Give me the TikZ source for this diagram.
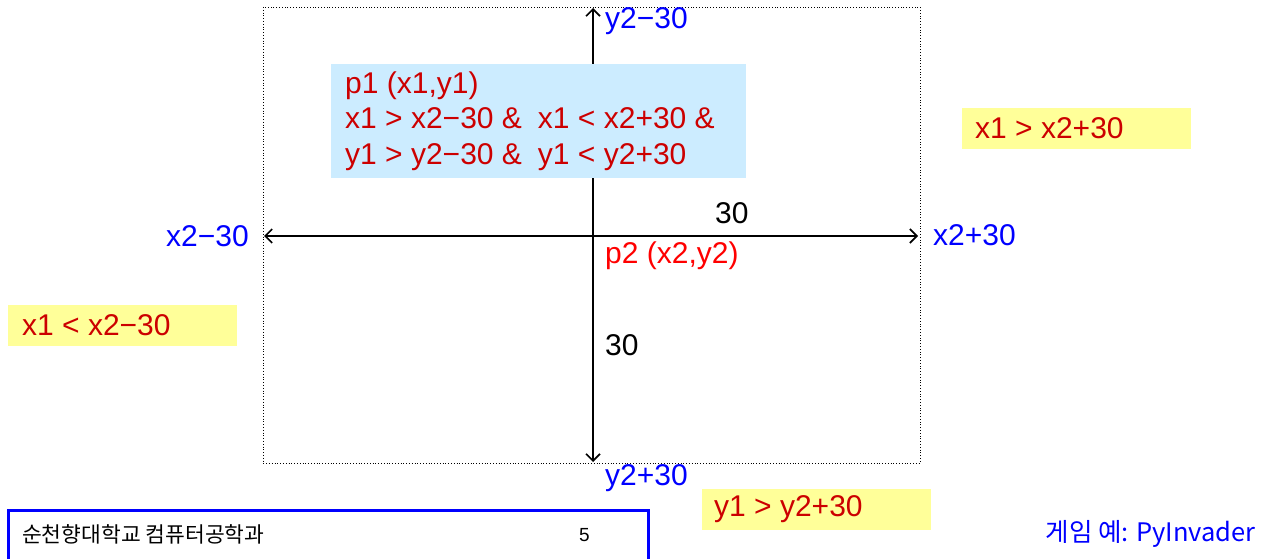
\documentclass[tikz,border=0pt]{standalone}
\usepackage{fontspec}
\setmainfont{Liberation Sans}
\newfontfamily\kofont{Noto Sans CJK KR}
\usetikzlibrary{arrows.meta}
\definecolor{lblue}{HTML}{CCECFF}
\definecolor{lyellow}{HTML}{FFFF99}
\definecolor{dred}{HTML}{CC0000}
\definecolor{pblue}{HTML}{0000FF}
\tikzset{
  axis/.style={line width=1.6pt, -{Straight Barb[length=7pt,width=14pt,line width=1.6pt]}},
  lbl/.style={font=\fontsize{30}{34}\selectfont, inner sep=0pt, anchor=west},
  bluelbl/.style={lbl, text=pblue},
  blacklbl/.style={lbl, text=black},
  condbox/.style={fill=lyellow, minimum width=229pt, minimum height=41pt, anchor=north west, inner sep=0pt},
  condtxt/.style={lbl, text=dred},
}
\begin{document}
\begin{tikzpicture}[x=1pt,y=-1pt]
\useasboundingbox (0,0) rectangle (1262,559);
% dotted frame
\draw[dotted, line width=0.8pt] (263,7) rectangle (920,463);
% axes
\coordinate (c) at (593,236);
\coordinate (top) at (593,8);
\coordinate (bot) at (593,462);
\coordinate (left) at (264,236);
\coordinate (right) at (918,236);
\draw[axis] (c) -- (top);
\draw[axis] (c) -- (bot);
\draw[axis] (c) -- (left);
\draw[axis] (c) -- (right);
% p1 box
\node[fill=lblue, minimum width=415pt, minimum height=114pt, anchor=north west, inner sep=0pt] (pbox) at (331,64) {};
\node[condtxt, anchor=west, align=left, font=\fontsize{30}{35.5}\selectfont] (p1) at (345,121) {p1 (x1,y1)\\x1 > x2−30 \&\hspace{16pt}x1 < x2+30 \&\\y1 > y2−30 \&\hspace{16pt}y1 < y2+30};
% labels
\node[bluelbl] (ym) at (605,21) {y2−30};
\node[bluelbl] (xm) at (166,236) {x2−30};
\node[bluelbl] (xp) at (933,235) {x2+30};
\node[bluelbl] (yp) at (605,478) {y2+30};
\node[blacklbl] (h30) at (715,213) {30};
\node[blacklbl] (v30) at (605,345) {30};
\node[lbl, text=red] (p2) at (605,256) {p2 (x2,y2)};
% yellow condition boxes
\node[condbox] (b1) at (962,108) {};
\node[condtxt] (t1) at (975,128) {x1 > x2+30};
\node[condbox] (b2) at (8,305) {};
\node[condtxt] (t2) at (22,325) {x1 < x2−30};
\node[condbox] (b3) at (702,489) {};
\node[condtxt] (t3) at (714,509) {y1 > y2+30};
% footer
\draw[pblue, line width=3pt] (8,575) -- (8,510) -- (648,510) -- (648,575);
\node[lbl, font=\kofont\fontsize{21.5}{24}\selectfont] (dept) at (22,534) {순천향대학교 컴퓨터공학과};
\node[lbl, font=\fontsize{19}{20}\selectfont] (pg) at (579,535) {5};
\node[lbl, anchor=east, text=pblue, font=\kofont\fontsize{25.5}{28}\selectfont] (game) at (1256,534) {게임 예: PyInvader};
\end{tikzpicture}
\end{document}
